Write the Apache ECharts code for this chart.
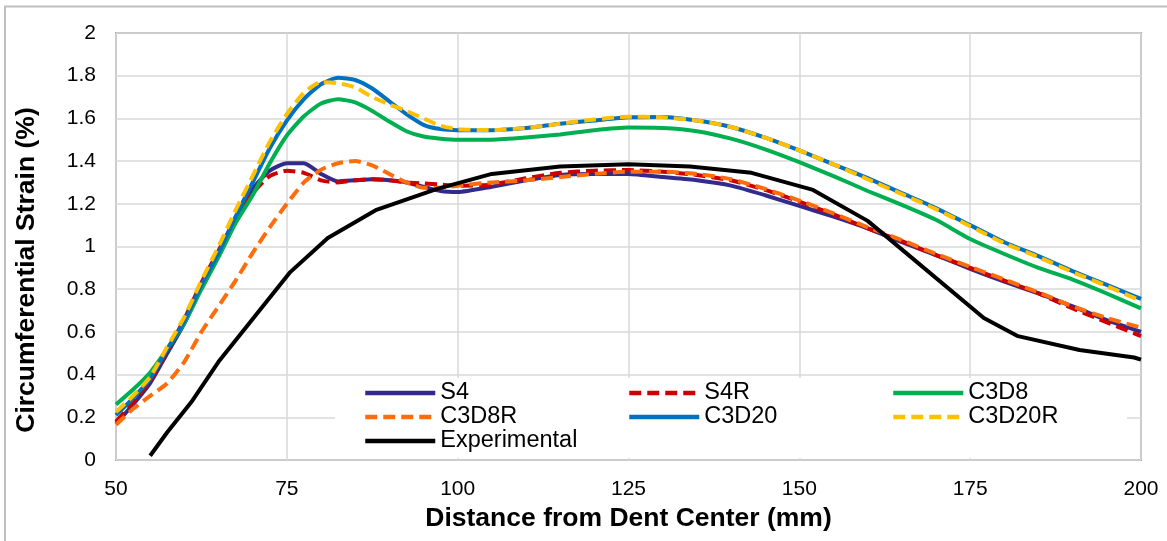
<!DOCTYPE html>
<html>
<head>
<meta charset="utf-8">
<script src="https://cdn.jsdelivr.net/npm/echarts@6/dist/echarts.min.js"></script>
<style>
  html, body { margin: 0; padding: 0; background: #fff; }
  #main { width: 1167px; height: 541px; }
</style>
</head>
<body>
<div id="main"></div>
<script>
// distance from dent center (mm) for the FE series
const dist = [50, 52.5, 55, 57.5, 60, 62.5, 65, 67.5, 70, 72.5, 75, 77.5, 80, 82.5, 85, 87.5, 90, 92.5, 95, 97.5,
  100, 105, 110, 115, 120, 125, 130, 135, 140, 145, 150, 155, 160, 165, 170, 175, 180, 185, 190, 195, 200];

const s4 = [0.17, 0.26, 0.36, 0.50, 0.64, 0.82, 0.97, 1.13, 1.27, 1.355, 1.39, 1.39, 1.34, 1.305, 1.31, 1.315, 1.31, 1.30, 1.28, 1.26,
  1.255, 1.28, 1.31, 1.335, 1.34, 1.34, 1.325, 1.31, 1.285, 1.24, 1.19, 1.14, 1.085, 1.02, 0.96, 0.895, 0.835, 0.78, 0.72, 0.655, 0.60];
const s4r = [0.18, 0.27, 0.37, 0.51, 0.66, 0.83, 0.98, 1.13, 1.25, 1.33, 1.355, 1.345, 1.31, 1.30, 1.31, 1.315, 1.31, 1.30, 1.295, 1.29,
  1.285, 1.29, 1.32, 1.345, 1.355, 1.358, 1.35, 1.335, 1.31, 1.265, 1.21, 1.15, 1.085, 1.025, 0.96, 0.90, 0.84, 0.78, 0.71, 0.645, 0.58];
const c3d8 = [0.26, 0.33, 0.41, 0.52, 0.64, 0.80, 0.95, 1.11, 1.24, 1.39, 1.52, 1.61, 1.67, 1.69, 1.675, 1.635, 1.585, 1.54, 1.515, 1.505,
  1.50, 1.50, 1.51, 1.525, 1.545, 1.557, 1.555, 1.54, 1.505, 1.455, 1.395, 1.33, 1.26, 1.195, 1.125, 1.035, 0.965, 0.90, 0.845, 0.78, 0.71];
const c3d8r = [0.165, 0.24, 0.30, 0.36, 0.46, 0.60, 0.72, 0.84, 0.97, 1.09, 1.20, 1.30, 1.36, 1.39, 1.40, 1.38, 1.34, 1.30, 1.275, 1.275,
  1.285, 1.30, 1.31, 1.325, 1.34, 1.35, 1.35, 1.34, 1.315, 1.27, 1.215, 1.155, 1.09, 1.03, 0.965, 0.905, 0.845, 0.785, 0.72, 0.665, 0.62];
const c3d20 = [0.21, 0.29, 0.38, 0.52, 0.65, 0.82, 0.97, 1.14, 1.30, 1.46, 1.59, 1.69, 1.76, 1.79, 1.78, 1.74, 1.68, 1.62, 1.57, 1.55,
  1.545, 1.545, 1.555, 1.575, 1.59, 1.605, 1.607, 1.59, 1.56, 1.51, 1.45, 1.385, 1.32, 1.25, 1.18, 1.10, 1.02, 0.955, 0.885, 0.82, 0.755];
const c3d20r = [0.225, 0.30, 0.39, 0.53, 0.67, 0.84, 1.00, 1.17, 1.33, 1.49, 1.62, 1.72, 1.77, 1.765, 1.745, 1.70, 1.665, 1.635, 1.60, 1.565,
  1.55, 1.545, 1.555, 1.575, 1.595, 1.608, 1.605, 1.59, 1.56, 1.51, 1.45, 1.385, 1.315, 1.245, 1.175, 1.095, 1.015, 0.95, 0.88, 0.815, 0.745];

// experimental measurements
const expDist = [55, 57.5, 61, 65, 75.5, 81, 88, 97, 105, 115, 125, 134, 143, 152, 160, 177, 182, 191, 199, 200];
const expStrain = [0.02, 0.13, 0.27, 0.46, 0.88, 1.04, 1.17, 1.27, 1.34, 1.375, 1.385, 1.375, 1.345, 1.265, 1.12, 0.665, 0.58, 0.515, 0.48, 0.47];

const font = 'Arial, "Liberation Sans", sans-serif';

function pairs(xs, ys) {
  return xs.map((x, i) => [x, ys[i]]);
}

function line(name, xs, ys, color, dashed) {
  return {
    name: name,
    type: 'line',
    data: pairs(xs, ys),
    symbol: 'none',
    smooth: 0.2,
    lineStyle: { color: color, width: 4, type: dashed ? [12, 6] : 'solid' },
    itemStyle: { color: color }
  };
}

function legendCol(left, names) {
  return {
    orient: 'vertical',
    left: left,
    top: 381,
    padding: 0,
    itemGap: 0,
    itemWidth: 70,
    itemHeight: 14,
    data: names,
    selectedMode: false,
    itemStyle: { opacity: 0 },
    lineStyle: { width: 4.5 },
    textStyle: { fontFamily: font, fontSize: 23.5, color: '#000', lineHeight: 24 }
  };
}

const chart = echarts.init(document.getElementById('main'));
chart.setOption({
  animation: false,
  grid: {
    left: 116, right: 26, top: 33, bottom: 81,
    show: true, borderColor: '#a6a6a6', borderWidth: 2, backgroundColor: 'transparent'
  },
  legend: [
    legendCol(363, ['S4', 'C3D8R', 'Experimental']),
    legendCol(627, ['S4R', 'C3D20']),
    legendCol(891, ['C3D8', 'C3D20R'])
  ],
  graphic: [
    {
      type: 'polyline',
      shape: { points: [[5, 541], [5, 6.5], [1167, 6.5]] },
      style: { stroke: '#bfbfbf', lineWidth: 2, fill: null }
    },
    {
      type: 'rect', z: 1,
      shape: { x: 335, y: 378, width: 792, height: 80 },
      style: { fill: '#fff' }
    }
  ],
  xAxis: {
    type: 'value', min: 50, max: 200, interval: 25,
    name: 'Distance from Dent Center (mm)',
    nameLocation: 'middle', nameGap: 38,
    nameTextStyle: { fontFamily: font, fontSize: 26.5, fontWeight: 'bold', color: '#000' },
    axisLine: { show: false }, axisTick: { show: false },
    axisLabel: { fontFamily: font, fontSize: 21, color: '#000', margin: 19 },
    splitLine: { show: true, lineStyle: { color: '#d9d9d9', width: 1.5 } }
  },
  yAxis: {
    type: 'value', min: 0, max: 2, interval: 0.2,
    name: 'Circumferential Strain (%)',
    nameLocation: 'middle', nameGap: 76,
    nameTextStyle: { fontFamily: font, fontSize: 26.5, fontWeight: 'bold', color: '#000', padding: [0, 47, 0, 0] },
    axisLine: { show: false }, axisTick: { show: false },
    axisLabel: { fontFamily: font, fontSize: 21, color: '#000', margin: 20 },
    splitLine: { show: true, lineStyle: { color: '#d9d9d9', width: 1.5 } }
  },
  series: [
    line('S4', dist, s4, '#322a8c', false),
    line('S4R', dist, s4r, '#cc0000', true),
    line('C3D8', dist, c3d8, '#00b050', false),
    line('C3D8R', dist, c3d8r, '#ff6d0a', true),
    line('C3D20', dist, c3d20, '#0070c0', false),
    line('C3D20R', dist, c3d20r, '#ffc000', true),
    Object.assign(line('Experimental', expDist, expStrain, '#000000', false), { smooth: false })
  ]
});
</script>
</body>
</html>
